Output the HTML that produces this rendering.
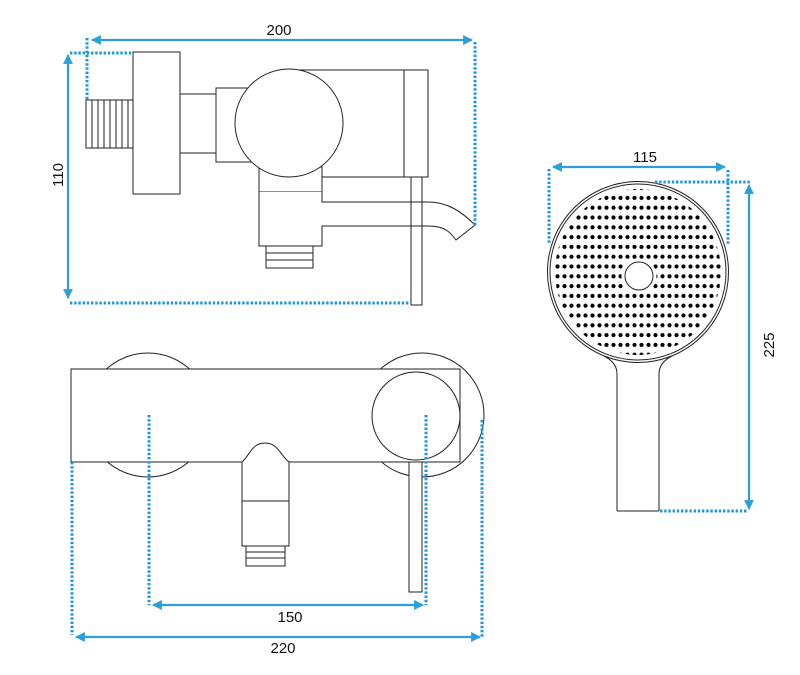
<!DOCTYPE html>
<html><head><meta charset="utf-8"><style>
html,body{margin:0;padding:0;background:#fff;}
svg{display:block;}
text{font-family:"Liberation Sans",sans-serif;font-size:15px;fill:#111;}
</style></head><body>
<svg width="800" height="675" viewBox="0 0 800 675" xmlns="http://www.w3.org/2000/svg">
<defs>
<marker id="a" viewBox="0 0 10 10" refX="9" refY="5" markerWidth="4.5" markerHeight="4.5" orient="auto-start-reverse"><path d="M0,0 L10,5 L0,10 z" fill="#2a9fd8"/></marker>
<pattern id="dots" x="1" y="193" width="7" height="9.8" patternUnits="userSpaceOnUse"><circle cx="3.5" cy="4.9" r="2.1" fill="#000"/></pattern>
<clipPath id="hc"><circle cx="638" cy="272" r="83"/></clipPath>
</defs>
<g fill="none" stroke="#222" stroke-width="1">
<rect x="86" y="100" width="47" height="48"/>
<path d="M92,100V148M98,100V148M104,100V148M110,100V148M116,100V148M122,100V148M128,100V148"/>
<rect x="133" y="52" width="47" height="142" fill="#fff"/>
<rect x="180" y="94" width="36" height="59"/>
<rect x="216" y="88" width="40" height="74"/>
<rect x="289" y="70" width="115" height="107"/>
<rect x="404" y="70" width="24" height="107"/>
<rect x="259" y="167" width="63" height="25" fill="#fff"/>
<circle cx="289" cy="123" r="54" fill="#fff"/>
<path d="M259,192V246H322V226H428C445,226 450,232 456,240L475,225C462,212 448,202 428,202H322V192" fill="#fff"/>
<rect x="411" y="177" width="11" height="128"/>
<rect x="266" y="246" width="47" height="22"/>
<path d="M266,253H313M266,260H313"/>
<path d="M617,511V374C617,366 612,360 604,356M659,511V374C659,366 664,360 672,356M617,511H659"/>
<circle cx="638" cy="272" r="90.5" fill="#fff"/>
<circle cx="638" cy="272" r="88"/>
</g>
<rect x="550" y="185" width="180" height="175" fill="url(#dots)" clip-path="url(#hc)"/>
<circle cx="639" cy="276" r="17.5" fill="#fff"/>
<circle cx="639" cy="276" r="14" fill="none" stroke="#222"/>
<g fill="none" stroke="#222" stroke-width="1">
<circle cx="148" cy="415" r="62"/>
<circle cx="422" cy="415" r="62"/>
<rect x="71" y="369" width="389" height="93" fill="#fff"/>
<circle cx="416" cy="416" r="44"/>
<rect x="409" y="462" width="13" height="130" fill="#fff"/>
<path d="M242,462C250,455 252,443 265,443C278,443 280,455 289,462V546H242Z" fill="#fff"/>
<path d="M242,501H289"/>
<rect x="246" y="546" width="39" height="20"/>
<path d="M246,552H285M246,558H285"/>
</g>
<g fill="none" stroke="#2196d6" stroke-width="3" stroke-dasharray="2.4 1.8">
<path d="M87,38V100M70,53H133M475,42V225M70,303H410"/>
<path d="M549,169V243M728,170V244M655,182H750M660,511H748"/>
<path d="M72,462V635M149,415V605M426,415V605M482,420V637"/>
</g>
<g stroke="#2a9fd8" stroke-width="2.2" marker-start="url(#a)" marker-end="url(#a)">
<line x1="92" y1="40" x2="472" y2="40"/>
<line x1="68" y1="55" x2="68" y2="298"/>
<line x1="553" y1="167" x2="725" y2="167"/>
<line x1="749" y1="185" x2="749" y2="509"/>
<line x1="153" y1="605" x2="423" y2="605"/>
<line x1="76" y1="637" x2="480" y2="637"/>
</g>
<text x="279" y="35" text-anchor="middle">200</text>
<text x="0" y="0" text-anchor="middle" transform="translate(63,175) rotate(-90)">110</text>
<text x="645" y="162" text-anchor="middle">115</text>
<text x="0" y="0" text-anchor="middle" transform="translate(774,345) rotate(-90)">225</text>
<text x="290" y="622" text-anchor="middle">150</text>
<text x="283" y="653" text-anchor="middle">220</text>
</svg>
</body></html>
